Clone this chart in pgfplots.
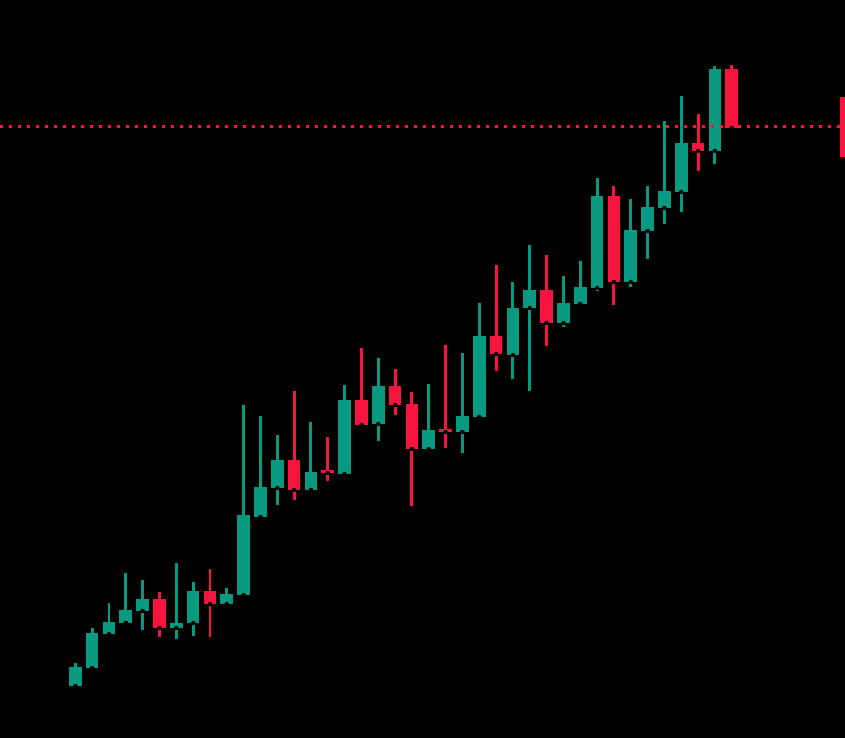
\documentclass[border=0pt]{standalone}
\usepackage{pgfplots}
\pgfplotsset{compat=1.18}
\usepackage{pgfplotstable}

\definecolor{upcol}{HTML}{089981}
\definecolor{downcol}{HTML}{F7153F}

% candles: x = bar index, o h l c
\pgfplotstableread{
x  o   h   l   c
0  52  75  51  71
1  70  110 69  105
2  104 135 102 116
3  115 165 115 128
4  127 158 106 139
6  110 175 97  115
7  115 156 100 147
9  134 150 130 144
10 143 333 141 223
11 221 322 218 251
12 250 303 231 278
14 248 316 248 266
16 264 353 262 338
18 314 380 295 352
21 289 354 288 308
23 306 385 283 322
24 321 435 320 402
26 383 456 357 430
27 430 493 345 448
29 415 462 409 435
30 434 477 434 451
31 450 560 445 542
33 456 539 449 508
34 507 552 477 531
35 530 617 512 547
36 546 642 524 595
38 587 672 572 669
}\up

\pgfplotstableread{
x    o     h   l   c
5    139   146 99  110
8    147   169 99  134
13   278   347 236 248
15   267.5 301 255 265
17   338   390 312 313
19   352   369 321 333
20   334   346 230 289
22   309   393 288 306
25   402   473 365 384
28   448   483 390 415
32   542   552 431 456
37   595   624 565 587
39   669   673 610 610
45.8 641   641 581 581
}\down

\begin{document}
\begin{tikzpicture}
\begin{axis}[
    width=845bp, height=738bp,
    scale only axis,
    xmin=-4.474, xmax=45.73,
    ymin=0, ymax=738,
    axis line style={draw=none},
    ticks=none,
    axis background/.style={fill=black},
  ]
  % wicks
  \addplot[only marks, mark=none, forget plot,
    error bars/.cd, y dir=plus, y explicit, error mark=none,
    error bar style={line width=2.9bp, draw=upcol}]
    table[x=x, y=l, y error expr=\thisrow{h}-\thisrow{l}] {\up};
  \addplot[only marks, mark=none, forget plot,
    error bars/.cd, y dir=plus, y explicit, error mark=none,
    error bar style={line width=2.9bp, draw=downcol}]
    table[x=x, y=l, y error expr=\thisrow{h}-\thisrow{l}] {\down};
  % bodies
  \addplot[only marks, mark=none, forget plot,
    error bars/.cd, y dir=plus, y explicit, error mark=none,
    error bar style={line width=12.7bp, draw=upcol}]
    table[x=x, y expr={min(\thisrow{o},\thisrow{c})},
          y error expr={abs(\thisrow{c}-\thisrow{o})}] {\up};
  \addplot[only marks, mark=none, forget plot,
    error bars/.cd, y dir=plus, y explicit, error mark=none,
    error bar style={line width=12.7bp, draw=downcol}]
    table[x=x, y expr={min(\thisrow{o},\thisrow{c})},
          y error expr={abs(\thisrow{c}-\thisrow{o})}] {\down};
  % last price line
  \addplot[downcol, line width=3bp, dash pattern=on 3bp off 6bp]
    coordinates {(-4.474,611) (45.5,611)};
\end{axis}
\end{tikzpicture}
\end{document}
